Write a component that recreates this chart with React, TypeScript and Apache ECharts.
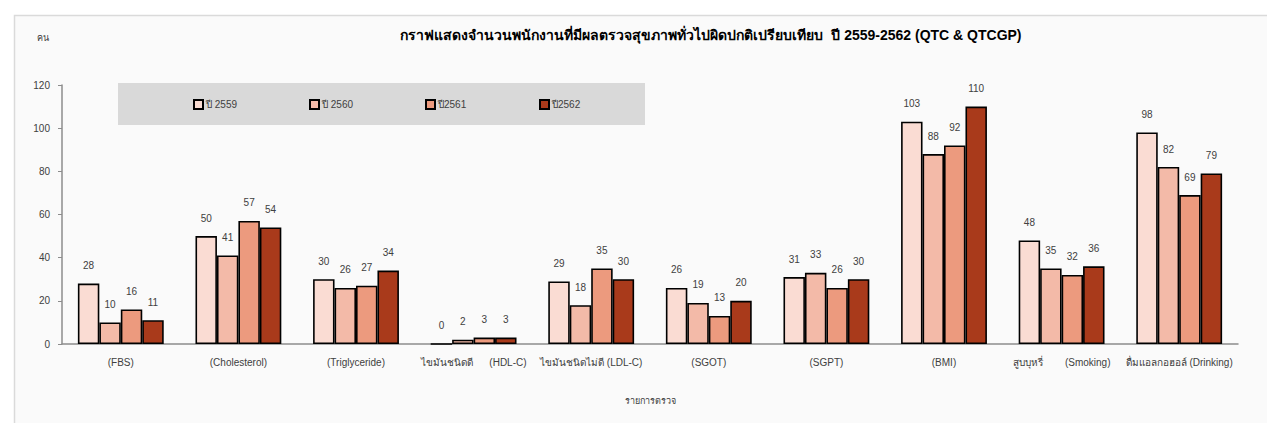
import React, { useEffect, useRef } from "react";
import * as echarts from "echarts";

const categories = [
  "(FBS)",
  "(Cholesterol)",
  "(Triglyceride)",
  "ไขมันชนิดดี      (HDL-C)",
  "ไขมันชนิดไม่ดี (LDL-C)",
  "(SGOT)",
  "(SGPT)",
  "(BMI)",
  "สูบบุหรี่        (Smoking)",
  "ดื่มแอลกอฮอล์ (Drinking)",
];
const seriesNames = ["ปี 2559", "ปี 2560", "ปี2561", "ปี2562"];
const y2559 = [28, 50, 30, 0, 29, 26, 31, 103, 48, 98];
const y2560 = [10, 41, 26, 2, 18, 19, 33, 88, 35, 82];
const y2561 = [16, 57, 27, 3, 35, 13, 26, 92, 32, 69];
const y2562 = [11, 54, 34, 3, 30, 20, 30, 110, 36, 79];
const seriesValues = [y2559, y2560, y2561, y2562];
const colors = ["#fadcd3", "#f3baa8", "#ec9a7e", "#a93a1b"];
const legendLefts = [193, 309, 425, 539];

const FONT = 'Arial, "Liberation Sans", "Noto Sans", sans-serif';

export default function App() {
  const ref = useRef<HTMLDivElement>(null);
  useEffect(() => {
    if (!ref.current) return;
    const chart = echarts.init(ref.current, null, { renderer: "svg" });
    chart.setOption({
      animation: false,
      backgroundColor: "#ffffff",
      textStyle: { fontFamily: FONT },
      graphic: [
        {
          type: "rect",
          z: -10,
          silent: true,
          shape: { x: 14.5, y: 15.5, width: 1400, height: 600 },
          style: { fill: "#fafafa", stroke: "#dadada", lineWidth: 1.5 },
        },
        {
          type: "rect",
          z: -5,
          silent: true,
          shape: { x: 118, y: 83, width: 527, height: 42 },
          style: { fill: "#d9d9d9" },
        },
        {
          type: "text",
          x: 37,
          y: 38,
          style: {
            text: "คน",
            fontSize: 9,
            fill: "#404040",
            fontFamily: FONT,
            verticalAlign: "middle",
          },
        },
      ],
      title: {
        text: "กราฟแสดงจำนวนพนักงานที่มีผลตรวจสุขภาพทั่วไปผิดปกติเปรียบเทียบ  ปี 2559-2562 (QTC & QTCGP)",
        left: 706,
        textAlign: "center",
        top: 23,
        textStyle: { fontSize: 14, fontWeight: "bold", color: "#000", fontFamily: FONT },
      },
      legend: seriesNames.map((n, i) => ({
        data: [n],
        left: legendLefts[i],
        top: 99,
        padding: 0,
        itemWidth: 9,
        itemHeight: 9,
        itemGap: 4,
        icon: "rect",
        textStyle: { fontSize: 10, color: "#404040", fontFamily: FONT, padding: [0, 0, 0, -2] },
      })),
      grid: { left: 62, right: 29, top: 85, bottom: 79, containLabel: false },
      xAxis: {
        type: "category",
        data: categories,
        name: "รายการตรวจ",
        nameLocation: "middle",
        nameGap: 52,
        nameTextStyle: { fontSize: 9, color: "#404040", fontFamily: FONT },
        axisLine: { lineStyle: { color: "#8c8c8c", width: 1.5 } },
        axisTick: { show: false },
        axisLabel: { fontSize: 10, color: "#404040", margin: 13, interval: 0, fontFamily: FONT },
      },
      yAxis: {
        type: "value",
        min: 0,
        max: 120,
        interval: 20,
        splitLine: { show: false },
        axisLine: { show: true, lineStyle: { color: "#8c8c8c", width: 1.5 } },
        axisTick: { show: true, inside: false, length: 4, lineStyle: { color: "#8c8c8c" } },
        axisLabel: { fontSize: 10, color: "#404040", margin: 12, fontFamily: FONT },
      },
      series: seriesNames.map((n, i) => ({
        name: n,
        type: "bar",
        data: seriesValues[i],
        barGap: "0%",
        barCategoryGap: "27%",
        itemStyle: { color: colors[i], borderColor: "#000", borderWidth: 1.6 },
        label: {
          show: true,
          position: "top",
          distance: 13,
          fontSize: 10,
          color: "#404040",
          fontFamily: FONT,
        },
      })),
    });
    return () => chart.dispose();
  }, []);
  return (
    <div
      ref={ref}
      style={{ position: "fixed", left: 0, top: 0, width: 1267, height: 423 }}
    />
  );
}
